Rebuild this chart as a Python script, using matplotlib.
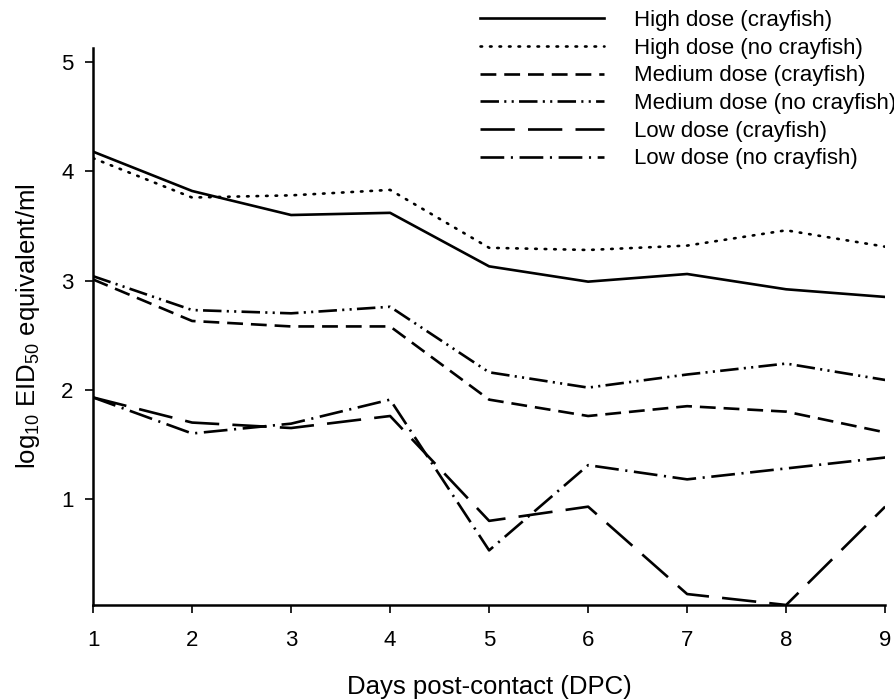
import matplotlib
matplotlib.use("Agg")
from matplotlib import pyplot as plt

plt.rcParams['font.family'] = ['Liberation Sans', 'DejaVu Sans']

days = [1, 2, 3, 4, 5, 6, 7, 8, 9]

high_crayfish = [4.18, 3.82, 3.60, 3.62, 3.13, 2.99, 3.06, 2.92, 2.85]
high_no_crayfish = [4.12, 3.76, 3.78, 3.83, 3.30, 3.28, 3.32, 3.46, 3.31]
medium_crayfish = [3.01, 2.63, 2.58, 2.58, 1.91, 1.76, 1.85, 1.80, 1.61]
medium_no_crayfish = [3.04, 2.73, 2.70, 2.76, 2.16, 2.02, 2.14, 2.24, 2.09]
low_crayfish = [1.93, 1.70, 1.65, 1.76, 0.80, 0.93, 0.13, 0.03, 0.93]
low_no_crayfish = [1.93, 1.60, 1.69, 1.91, 0.53, 1.31, 1.18, 1.28, 1.38]

labels = ['High dose (crayfish)', 'High dose (no crayfish)',
          'Medium dose (crayfish)', 'Medium dose (no crayfish)',
          'Low dose (crayfish)', 'Low dose (no crayfish)']

series = [high_crayfish, high_no_crayfish, medium_crayfish,
          medium_no_crayfish, low_crayfish, low_no_crayfish]
styles = ['-', (0, (0.6, 3)), (0, (6, 3)),
          (0, (7, 2, 0.8, 2, 0.8, 2)), (0, (13, 5)), (0, (9, 2.5, 0.8, 2.5))]

fig = plt.figure(figsize=(8.95, 6.99), dpi=100)
ax = fig.add_axes([0.104, 0.1345, 0.885, 0.797])

for vals, ls, lab in zip(series, styles, labels):
    ax.plot(days, vals, color='black', linestyle=ls, linewidth=1.9,
            label=lab, dash_capstyle='round' if ls == styles[1] else 'butt')

ax.set_xlim(1, 9)
ax.set_ylim(0.03, 5.13)
ax.set_xticks(days)
ax.set_yticks([1, 2, 3, 4, 5])

for s in ['top', 'right']:
    ax.spines[s].set_visible(False)
for s in ['left', 'bottom']:
    ax.spines[s].set_linewidth(1.8)

ax.tick_params(direction='out', length=6, width=1.2, labelsize=16)
ax.tick_params(axis='x', pad=12)
ax.tick_params(axis='y', pad=8)

ax.set_xlabel('Days post-contact (DPC)', fontsize=18.5, labelpad=17)
ax.set_ylabel(r'log$_{\mathregular{10}}$ EID$_{\mathregular{50}}$ equivalent/ml',
              fontsize=18.5, labelpad=14)

fig.legend(loc='upper left', bbox_to_anchor=(480 / 895, 1 - 10 / 699),
           frameon=False, fontsize=16, handlelength=5.6, handletextpad=1.35,
           labelspacing=0.3, borderpad=0, borderaxespad=0)

fig.savefig('out.png', dpi=100)
